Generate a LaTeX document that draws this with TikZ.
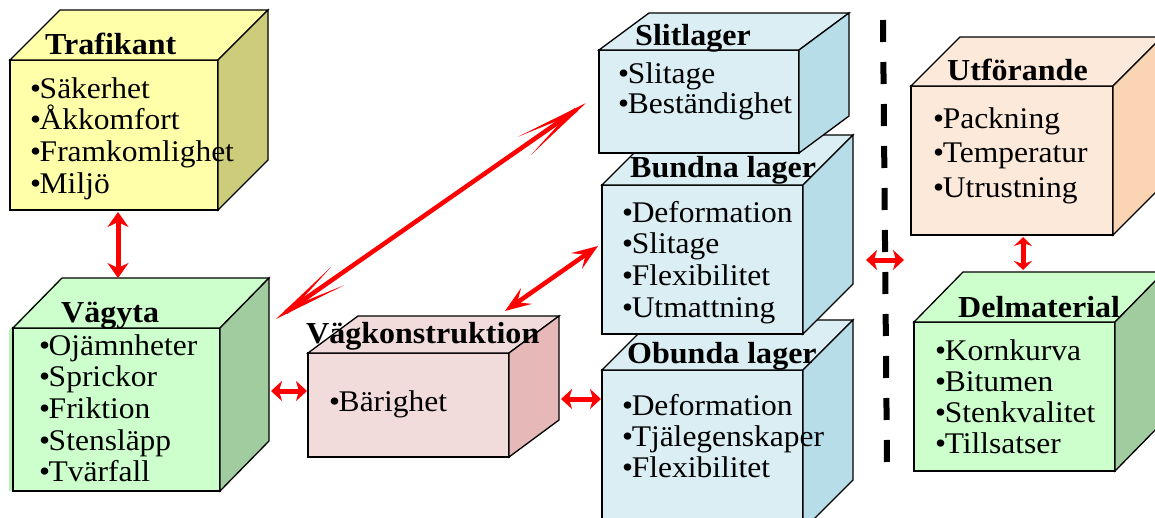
\documentclass[tikz,border=0pt]{standalone}
\usepackage{fontspec}
\setmainfont{Liberation Serif}[FakeStretch=1.05]
\usetikzlibrary{arrows.meta,calc}

% face colours: F = front and top, S = right side
\definecolor{yelF}{RGB}{255,255,170}
\definecolor{yelS}{RGB}{204,204,122}
\definecolor{grnF}{RGB}{204,255,204}
\definecolor{grnS}{RGB}{160,204,160}
\definecolor{pnkF}{RGB}{242,220,219}
\definecolor{pnkS}{RGB}{230,184,183}
\definecolor{bluF}{RGB}{218,238,243}
\definecolor{bluS}{RGB}{183,222,232}
\definecolor{pchF}{RGB}{253,233,217}
\definecolor{pchS}{RGB}{251,212,180}
\definecolor{grnShadow}{RGB}{185,240,185}
\definecolor{linkred}{RGB}{255,0,0}

\tikzset{
  cubefront/.style={draw=black, line width=1.3pt, inner sep=0pt, outer sep=0pt, anchor=north west},
  cubeedge/.style={draw=black, line width=1.3pt, line join=miter},
  boxtitle/.style={anchor=base west, inner sep=0pt, font=\fontsize{30.5}{32}\selectfont\bfseries},
  boxitem/.style={anchor=base west, inner sep=0pt, font=\fontsize{30}{32}\selectfont},
  link/.style={draw=linkred, line width=5pt},
  headS/.style={link, {Stealth[length=11pt,width=20pt,inset=3pt]}-{Stealth[length=11pt,width=20pt,inset=3pt]}},
  headM/.style={link, {Stealth[length=15pt,width=21pt,inset=5pt]}-{Stealth[length=15pt,width=21pt,inset=5pt]}},
  headD/.style={link, line width=4.5pt, {Stealth[length=26pt,width=19pt,inset=11pt]}-{Stealth[length=26pt,width=19pt,inset=11pt]}},
  divider/.style={draw=black, line width=6pt, dash pattern=on 22pt off 20pt},
}

% a box seen in perspective: name, x, y (front top-left), width, height,
% depth right, depth up, colour prefix
\newcommand\cubebox[8]{%
  \node[cubefront, fill=#8F, minimum width=#4pt, minimum height=#5pt] (#1) at (#2,#3) {};
  \draw[cubeedge, fill=#8F] (#1.north west) -- ++(#6,-#7) -- ++(#4,0) -- (#1.north east) -- cycle;
  \draw[cubeedge, fill=#8S] (#1.north east) -- ++(#6,-#7) -- ++(0,#5) -- (#1.south east) -- cycle;
}
% bulleted lines: name, x, first baseline, line step, items
\newcommand\bulletlines[5]{%
  \foreach \t [count=\i] in {#5}
    \node[boxitem] (#1-\i) at (#2,{#3+(\i-1)*#4}) {•\kern-1.5pt\t};
}
% long slim barbed head with its tip at #1, pointing away from #2
\newcommand\slimhead[2]{%
  \fill[linkred] (#1) -- ($(#1)!76pt!8.5:(#2)$) -- ($(#1)!26pt!(#2)$) -- ($(#1)!76pt!-8.5:(#2)$) -- cycle;
}

\begin{document}
\begin{tikzpicture}[x=1pt,y=-1pt]
\clip (0,0) rectangle (1155,517);
\useasboundingbox (0,0) rectangle (1155,517);
\fill[white] (0,0) rectangle (1155,517);

% Trafikant
\cubebox{traf}{10}{60}{208}{150}{50}{50}{yel}
\node[boxtitle] (trafT) at (45,54) {Trafikant};
\bulletlines{traf}{30}{98}{31.7}{Säkerhet,Åkkomfort,Framkomlighet,Miljö}

% Vägyta (with a soft green rim on its left)
\fill[grnShadow] (9,491) -- (9,330) -- (59,280) -- (63,278) -- (13,328) -- (13,491) -- cycle;
\cubebox{vagyta}{13}{328}{207}{163}{49}{50}{grn}
\node[boxtitle] (vagytaT) at (61,322) {Vägyta};
\bulletlines{vagyta}{39}{355}{31.7}{Ojämnheter,Sprickor,Friktion,Stensläpp,Tvärfall}

% Vägkonstruktion
\cubebox{vagk}{308}{353}{201}{104}{50}{37}{pnk}
\node[boxtitle] (vagkT) at (306,343) {Vägkonstruktion};
\bulletlines{vagk}{329}{411}{31}{Bärighet}

% layer stack, bottom layer first
\cubebox{obunda}{602}{370}{201}{160}{50}{50}{blu}
\node[boxtitle] (obundaT) at (627,363) {Obunda lager};
\bulletlines{obunda}{622}{415}{31}{Deformation,Tjälegenskaper,Flexibilitet}

\cubebox{bundna}{602}{185}{201}{149}{50}{50}{blu}
\node[boxtitle] (bundnaT) at (630,177) {Bundna lager};
\bulletlines{bundna}{622}{222}{31.7}{Deformation,Slitage,Flexibilitet,Utmattning}

\cubebox{slit}{599}{50}{200}{103}{50}{37}{blu}
\node[boxtitle] (slitT) at (635,45) {Slitlager};
\bulletlines{slit}{618}{83}{30}{Slitage,Beständighet}

% Utförande
\cubebox{utf}{911}{86}{202}{149}{49}{49}{pch}
\node[boxtitle] (utfT) at (947,80) {Utförande};
\bulletlines{utf}{933}{128}{34.5}{Packning,Temperatur,Utrustning}

% Delmaterial
\cubebox{delm}{914}{322}{201}{149}{49}{50}{grn}
\node[boxtitle] (delmT) at (958,317) {Delmaterial};
\bulletlines{delm}{935}{360}{31}{Kornkurva,Bitumen,Stenkvalitet,Tillsatser}

% dashed divider
\coordinate (divTop) at (883,20);
\coordinate (divBot) at (887,465);
\draw[divider] (divTop) -- (divBot);

% connectors
\coordinate (tvA) at ($(traf.south west)+(108,2)$);
\coordinate (tvB) at ($(vagyta.north west)+(105,-50)$);
\draw[headM] (tvA) -- (tvB);

\coordinate (vkA) at ($(vagyta.north east)+(51,63)$);
\coordinate (vkB) at ($(vagk.north west)+(-1,38)$);
\draw[headS] (vkA) -- (vkB);

\coordinate (koA) at ($(vagk.north east)+(52,46)$);
\coordinate (koB) at ($(obunda.north west)+(-1,29)$);
\draw[headS] (koA) -- (koB);

\coordinate (vsA) at ($(vagyta.north east)+(56,-9)$);
\coordinate (vsB) at ($(slit.north west)+(-13,53)$);
\draw[link, line width=4.5pt] ($(vsA)!12pt!(vsB)$) -- ($(vsB)!12pt!(vsA)$);
\slimhead{vsA}{vsB}
\slimhead{vsB}{vsA}

\coordinate (bkA) at ($(bundna.north west)+(-4,61)$);
\coordinate (bkB) at ($(vagk.north west)+(197,-42)$);
\draw[headD] (bkA) -- (bkB);

\coordinate (buA) at ($(bundna.north east)+(63,75)$);
\coordinate (buB) at ($(utf.south west)+(-7,25)$);
\draw[headS] (buA) -- (buB);

\coordinate (udA) at ($(utf.south west)+(112,2)$);
\coordinate (udB) at ($(delm.north west)+(109,-52)$);
\draw[link, line width=5pt, {Stealth[length=9pt,width=18pt,inset=3pt]}-{Stealth[length=9pt,width=18pt,inset=3pt]}] (udA) -- (udB);
\end{tikzpicture}
\end{document}
